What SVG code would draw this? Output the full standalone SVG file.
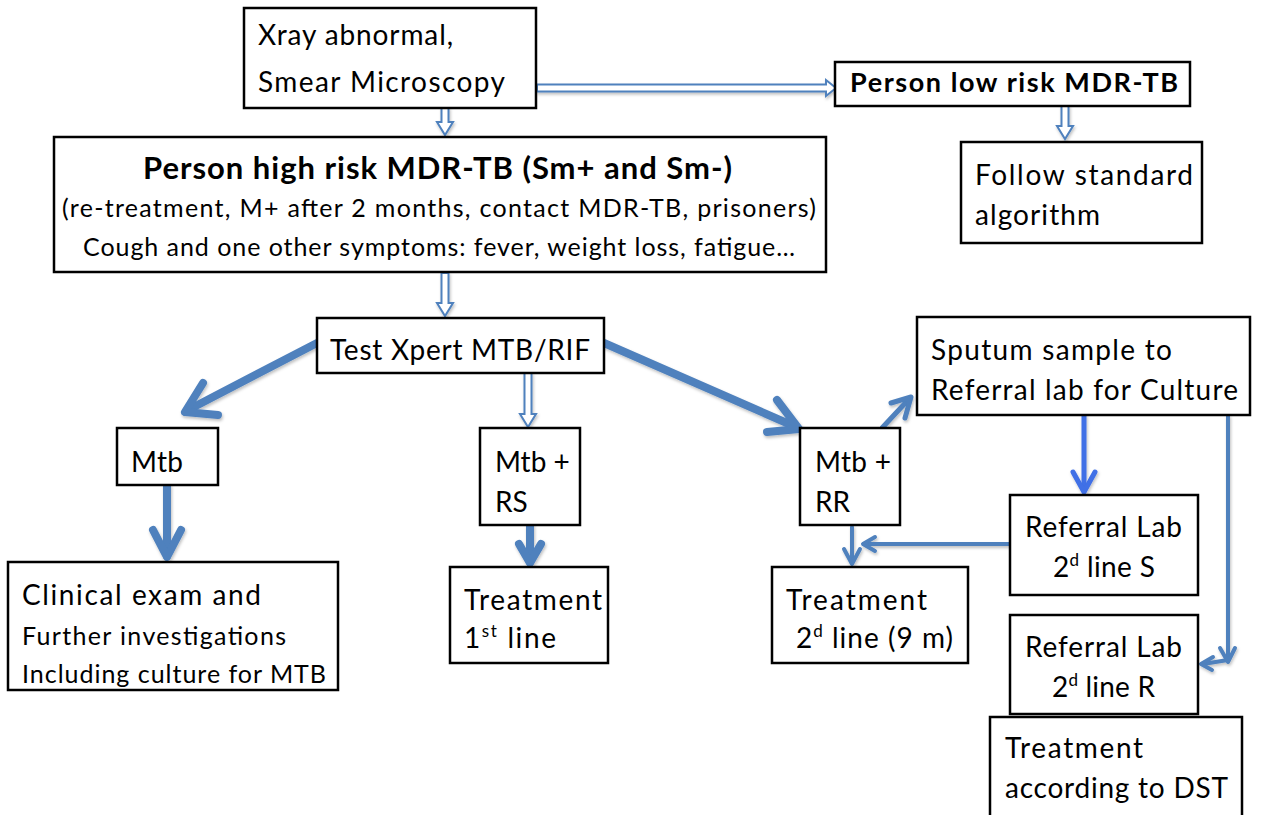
<svg xmlns="http://www.w3.org/2000/svg" width="1264" height="815" viewBox="0 0 1264 815">
<style>
.box{fill:#fff;stroke:#000;stroke-width:2.5}
.t{font-family:Lato,"Open Sans","Liberation Sans",sans-serif;font-size:28px;fill:#000}
.b{font-weight:bold}
.lr{font-size:27px}
.h{font-size:31px}
.s{font-size:25px}
.sup{font-size:17px}
.hol{fill:#fff;stroke:#4F81BD;stroke-width:2;stroke-linejoin:miter}
.arr{fill:none;stroke:#4F81BD;stroke-linecap:round;stroke-linejoin:round}
.bright{stroke:#3F6FE6}
</style>
<defs>
<filter id="sh" x="-20%" y="-20%" width="140%" height="140%">
<feDropShadow dx="1" dy="2" stdDeviation="1.5" flood-color="#000" flood-opacity="0.25"/>
</filter>
</defs>
<rect width="1264" height="815" fill="#fff"/>

<g id="connectors" filter="url(#sh)">
<path class="hol" d="M537,84.5 H826 V80 L836,88 L826,96 V91.5 H537 Z"/>
<path class="hol" d="M441.5,108 V122 H437 L445,135 L453,122 H448.5 V108 Z"/>
<path class="hol" d="M441.5,273 V303 H437 L445,316 L453,303 H448.5 V273 Z"/>
<path class="hol" d="M1061.5,106 V126 H1057 L1065,139 L1073,126 H1068.5 V106 Z"/>
<path class="hol" d="M524.5,373 V414 H520 L528,427 L536,414 H531.5 V373 Z"/>
<g class="arr" stroke-width="8">
<line x1="317" y1="343" x2="188" y2="410"/>
<polyline points="203,383 185,412 218,415"/>
<line x1="604" y1="343" x2="796" y2="427"/>
<polyline points="777,400 799,429 767,432"/>
<line x1="167" y1="486" x2="167" y2="556"/>
<polyline points="153,530 167,557 181,530"/>
<line x1="530" y1="526" x2="530" y2="562"/>
<polyline points="519,544 530,563 541,544"/>
</g>
<g class="arr" stroke-width="5">
<line x1="882" y1="428" x2="909" y2="399"/>
<polyline points="891,403 911,397 905,418"/>
</g>
<g class="arr" stroke-width="4">
<line x1="852" y1="527" x2="852" y2="563"/>
<polyline points="844,549 852,564 860,549"/>
<line x1="1010" y1="544" x2="864" y2="544"/>
<polyline points="875,537 863,544 875,551"/>
<polyline points="1228,416 1228,660 1203,664"/>
<polyline points="1220,648 1228,662 1235,648"/>
<polyline points="1213,657 1201,664 1212,670"/>
</g>
<g class="arr bright" stroke-width="5">
<line x1="1084" y1="416" x2="1084" y2="491"/>
<polyline points="1073,472 1084,492 1095,472"/>
</g>
</g>

<g id="n-xray">
<rect class="box" x="244" y="8" width="292" height="100"/>
<text class="t" x="258" y="45" textLength="195">Xray abnormal,</text>
<text class="t" x="258" y="92" textLength="247">Smear Microscopy</text>
</g>
<g id="n-lowrisk">
<rect class="box" x="835" y="62" width="355" height="44"/>
<text class="t b lr" x="850" y="92" textLength="328">Person low risk MDR-TB</text>
</g>
<g id="n-follow">
<rect class="box" x="961" y="142" width="241" height="101"/>
<text class="t" x="975" y="185" textLength="218">Follow standard</text>
<text class="t" x="975" y="225" textLength="125">algorithm</text>
</g>
<g id="n-highrisk">
<rect class="box" x="54" y="137" width="772" height="135"/>
<text class="t b h" x="143" y="179" textLength="589">Person high risk MDR-TB (Sm+ and Sm-)</text>
<text class="t s" x="62" y="217" textLength="754">(re-treatment, M+ after 2 months, contact MDR-TB, prisoners)</text>
<text class="t s" x="83" y="256" textLength="712">Cough and one other symptoms: fever, weight loss, fatigue…</text>
</g>
<g id="n-test">
<rect class="box" x="317" y="318" width="287" height="55"/>
<text class="t" x="330" y="360" textLength="260">Test Xpert MTB/RIF</text>
</g>
<g id="n-mtbneg">
<rect class="box" x="117" y="428" width="101" height="57"/>
<text class="t" x="131" y="472" textLength="52">Mtb</text>
</g>
<g id="n-rs">
<rect class="box" x="480" y="428" width="100" height="97"/>
<text class="t" x="495" y="472">Mtb +</text>
<text class="t" x="495" y="512">RS</text>
</g>
<g id="n-rr">
<rect class="box" x="800" y="428" width="100" height="97"/>
<text class="t" x="815" y="472" textLength="76">Mtb +</text>
<text class="t" x="815" y="512">RR</text>
</g>
<g id="n-sputum">
<rect class="box" x="917" y="317" width="333" height="98"/>
<text class="t" x="931" y="360" textLength="241">Sputum sample to</text>
<text class="t" x="931" y="400" textLength="307">Referral lab for Culture</text>
</g>
<g id="n-clinical">
<rect class="box" x="8" y="562" width="330" height="128"/>
<text class="t" x="22" y="605" textLength="239">Clinical exam and</text>
<text class="t s" x="22" y="645" textLength="264">Further investigations</text>
<text class="t s" x="22" y="683" textLength="304">Including culture for MTB</text>
</g>
<g id="n-treat1">
<rect class="box" x="450" y="567" width="158" height="96"/>
<text class="t" x="464" y="610" textLength="138">Treatment</text>
<text class="t" x="464" y="648" textLength="92">1<tspan class="sup" dy="-11">st</tspan><tspan dy="11"> line</tspan></text>
</g>
<g id="n-treat2">
<rect class="box" x="772" y="567" width="196" height="96"/>
<text class="t" x="786" y="610" textLength="141">Treatment</text>
<text class="t" x="796" y="648" textLength="157">2<tspan class="sup" dy="-11">d</tspan><tspan dy="11"> line (9 m)</tspan></text>
</g>
<g id="n-refs">
<rect class="box" x="1010" y="495" width="188" height="100"/>
<text class="t" x="1025" y="537" textLength="157">Referral Lab</text>
<text class="t" x="1053" y="577" textLength="102">2<tspan class="sup" dy="-11">d</tspan><tspan dy="11"> line S</tspan></text>
</g>
<g id="n-refr">
<rect class="box" x="1010" y="615" width="188" height="99"/>
<text class="t" x="1025" y="657" textLength="157">Referral Lab</text>
<text class="t" x="1052" y="697" textLength="103">2<tspan class="sup" dy="-11">d</tspan><tspan dy="11"> line R</tspan></text>
</g>
<g id="n-dst">
<rect class="box" x="990" y="717" width="252" height="110"/>
<text class="t" x="1005" y="758" textLength="138">Treatment</text>
<text class="t" x="1005" y="798" textLength="223">according to DST</text>
</g>
</svg>
